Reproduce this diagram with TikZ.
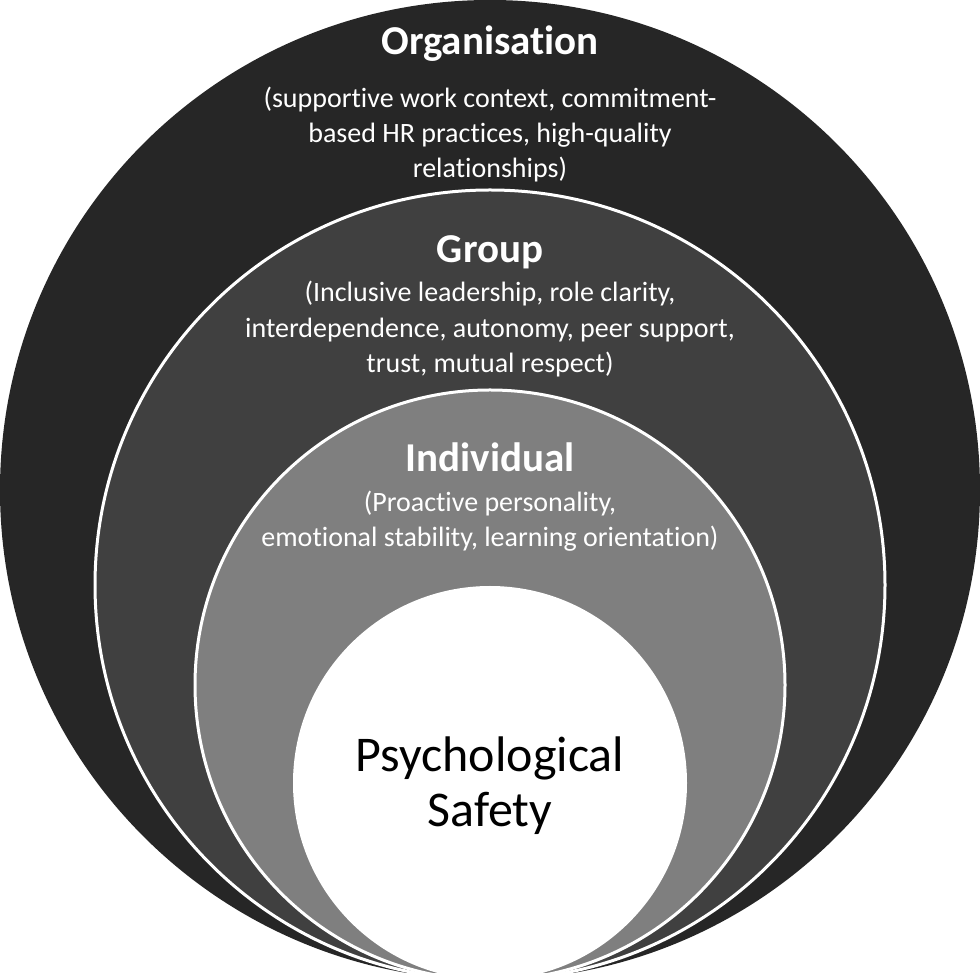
\documentclass[tikz,border=0pt]{standalone}
\usepackage{fontspec}
\setmainfont{Carlito}[Ligatures=NoCommon]
\definecolor{orgc}{HTML}{262626}
\definecolor{grpc}{HTML}{404040}
\definecolor{indc}{HTML}{7F7F7F}
\begin{document}
\begin{tikzpicture}[x=1pt,y=1pt,
  head/.style={text=white,font=\fontsize{41}{48}\selectfont\bfseries,anchor=base,inner sep=0pt},
  desc/.style={text=white,font=\fontsize{28}{33}\selectfont,anchor=base,inner sep=0pt},
  core/.style={text=black,font=\fontsize{50}{60}\selectfont,anchor=base,inner sep=0pt},
  ring/.style={draw=white,line width=3pt}]
\useasboundingbox (0,0) rectangle (980,972);
\clip (0,0) rectangle (980,972);
\fill[white] (0,0) rectangle (980,972);
% nested circles, tangent at the bottom
\fill[orgc] (490,482) circle[radius=490];
\filldraw[fill=grpc,ring] (490,387) circle[radius=395];
\filldraw[fill=indc,ring] (490,287) circle[radius=295];
\fill[white] (490,189) circle[radius=197];
% Organisation
\node[head] (orgh) at (490,917) {Organisation};
\node[desc] (org1) at (490,864) {(supportive work context, commitment-};
\node[desc] (org2) at (490,829) {based HR practices, high-quality};
\node[desc] (org3) at (490,794) {relationships)};
% Group
\node[head] (grph) at (490,709) {Group};
\node[desc] (grp1) at (490,670) {(Inclusive leadership, role clarity,};
\node[desc] (grp2) at (490,634) {interdependence, autonomy, peer support,};
\node[desc] (grp3) at (490,599) {trust, mutual respect)};
% Individual
\node[head] (indh) at (490,500) {Individual};
\node[desc] (ind1) at (490,460) {(Proactive personality,};
\node[desc] (ind2) at (490,425) {emotional stability, learning orientation)};
% core
\node[core] (ps1) at (490,200) {Psychological};
\node[core] (ps2) at (490,145) {Safety};
\end{tikzpicture}
\end{document}
